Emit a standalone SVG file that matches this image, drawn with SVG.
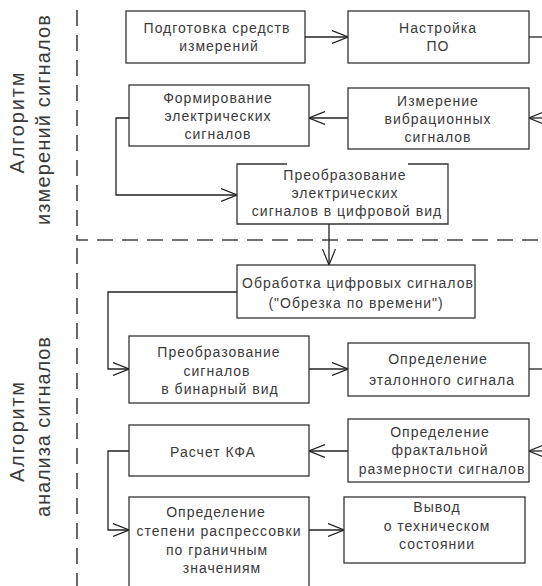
<svg xmlns="http://www.w3.org/2000/svg" width="542" height="586" viewBox="0 0 542 586">
<style>
.box{fill:#fff;stroke:#333;stroke-width:1.3}
.t{font-family:"Liberation Sans",Arial,sans-serif;font-size:14px;fill:#3a3a3a;text-anchor:middle;letter-spacing:1px}
.lbl{font-family:"Liberation Sans",Arial,sans-serif;font-size:20px;fill:#3a3a3a;text-anchor:middle}
.c{fill:none;stroke:#222;stroke-width:1.3}
.dash{fill:none;stroke:#444;stroke-width:1.6;stroke-dasharray:16 9}
</style>
<defs>
<marker id="arr" viewBox="0 0 16 14" refX="16" refY="7" markerWidth="16" markerHeight="14" markerUnits="userSpaceOnUse" orient="auto">
<path d="M0,0.5 L16,7 L0,13.5" fill="none" stroke="#222" stroke-width="1.2"/>
</marker>
</defs>
<rect width="542" height="586" fill="#fff"/>
<g id="separators">
<path class="dash" d="M77,10 V240 H542"/>
<path class="dash" d="M77,248 V586"/>
</g>
<g id="label-measure">
<text class="lbl" transform="translate(24,123) rotate(-90)" textLength="101" lengthAdjust="spacing">Алгоритм</text>
<text class="lbl" transform="translate(50,120) rotate(-90)" textLength="210" lengthAdjust="spacing">измерений сигналов</text>
</g>
<g id="label-analysis">
<text class="lbl" transform="translate(24,432) rotate(-90)" textLength="100" lengthAdjust="spacing">Алгоритм</text>
<text class="lbl" transform="translate(50,427) rotate(-90)" textLength="180" lengthAdjust="spacing">анализа сигналов</text>
</g>
<g id="connectors">
<path class="c" d="M305,37 H348" marker-end="url(#arr)"/>
<path class="c" d="M529,37 H542"/>
<path class="c" d="M542,118 H529" marker-end="url(#arr)"/>
<path class="c" d="M348,118 H309" marker-end="url(#arr)"/>
<path class="c" d="M129,118 H116 V195 H237" marker-end="url(#arr)"/>
<path class="c" d="M329,224 V265" marker-end="url(#arr)"/>
<path class="c" d="M237,292 H108 V369 H129" marker-end="url(#arr)"/>
<path class="c" d="M309,369 H348" marker-end="url(#arr)"/>
<path class="c" d="M529,369 H542"/>
<path class="c" d="M542,451 H529" marker-end="url(#arr)"/>
<path class="c" d="M348,451 H309" marker-end="url(#arr)"/>
<path class="c" d="M129,451 H108 V530 H129" marker-end="url(#arr)"/>
<path class="c" d="M309,530 H344" marker-end="url(#arr)"/>
</g>
<g id="n-podgotovka">
<rect class="box" x="126" y="11" width="179" height="52"/>
<text class="t" x="217" y="33">Подготовка средств</text>
<text class="t" x="219" y="51">измерений</text>
</g>
<g id="n-nastroyka">
<rect class="box" x="348" y="11" width="181" height="52"/>
<text class="t" x="438" y="33">Настройка</text>
<text class="t" x="438" y="51">ПО</text>
</g>
<g id="n-formirovanie">
<rect class="box" x="129" y="85" width="180" height="61"/>
<text class="t" x="218" y="103">Формирование</text>
<text class="t" x="218" y="121">электрических</text>
<text class="t" x="218" y="139">сигналов</text>
</g>
<g id="n-izmerenie">
<rect class="box" x="348" y="88" width="181" height="61"/>
<text class="t" x="438" y="106">Измерение</text>
<text class="t" x="438" y="124">вибрационных</text>
<text class="t" x="438" y="142">сигналов</text>
</g>
<g id="n-preobr-digital">
<path class="box" d="M287,164 H237 V224 H448 V164 H408"/>
<text class="t" x="345" y="180">Преобразование</text>
<text class="t" x="345" y="198">электрических</text>
<text class="t" x="347" y="216">сигналов в цифровой вид</text>
</g>
<g id="n-obrabotka">
<rect class="box" x="237" y="265" width="238" height="53"/>
<text class="t" x="358" y="288">Обработка цифровых сигналов</text>
<text class="t" x="356" y="308">("Обрезка по времени")</text>
</g>
<g id="n-preobr-binary">
<rect class="box" x="129" y="336" width="180" height="67"/>
<text class="t" x="219" y="357">Преобразование</text>
<text class="t" x="217" y="376">сигналов</text>
<text class="t" x="220" y="394">в бинарный вид</text>
</g>
<g id="n-etalon">
<rect class="box" x="348" y="343" width="181" height="53"/>
<text class="t" x="438" y="364">Определение</text>
<text class="t" x="442" y="385">эталонного сигнала</text>
</g>
<g id="n-kfa">
<rect class="box" x="129" y="425" width="180" height="51"/>
<text class="t" x="213" y="457">Расчет КФА</text>
</g>
<g id="n-fractal">
<rect class="box" x="348" y="419" width="181" height="63"/>
<text class="t" x="440" y="437">Определение</text>
<text class="t" x="440" y="455">фрактальной</text>
<text class="t" x="442" y="474">размерности сигналов</text>
</g>
<g id="n-stepen">
<rect class="box" x="129" y="497" width="180" height="95"/>
<text class="t" x="216" y="517">Определение</text>
<text class="t" x="219" y="536">степени распрессовки</text>
<text class="t" x="217" y="555">по граничным</text>
<text class="t" x="222" y="573">значениям</text>
</g>
<g id="n-vyvod">
<rect class="box" x="344" y="497" width="181" height="66"/>
<text class="t" x="437" y="512">Вывод</text>
<text class="t" x="437" y="531">о техническом</text>
<text class="t" x="437" y="549">состоянии</text>
</g>
</svg>
